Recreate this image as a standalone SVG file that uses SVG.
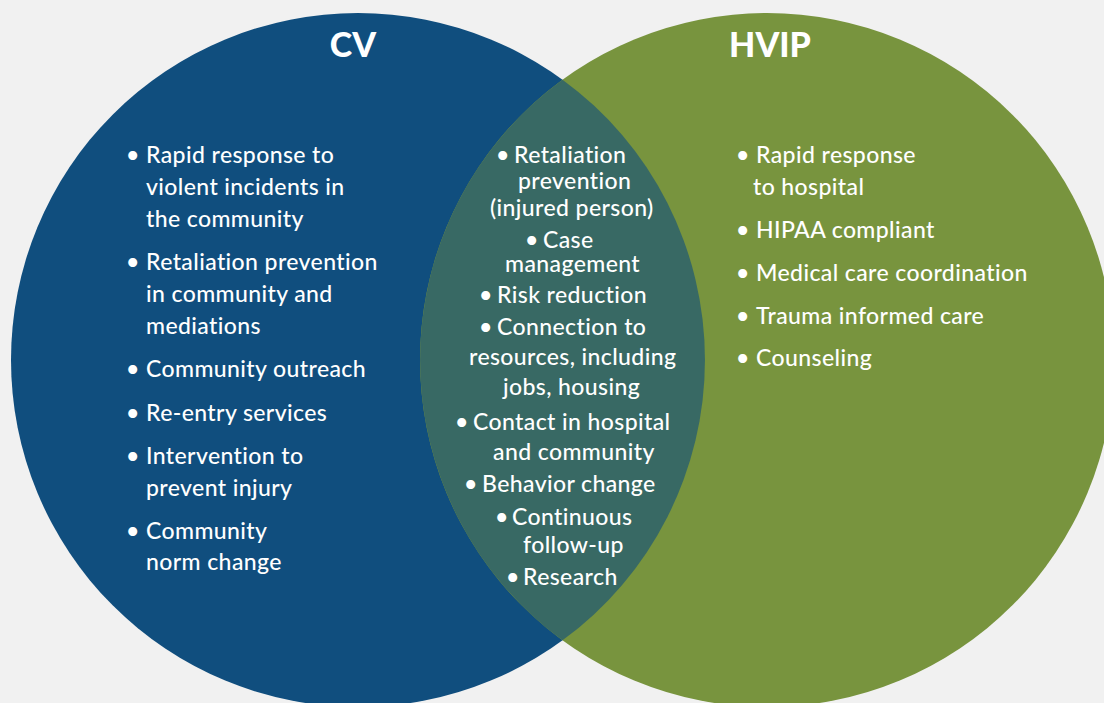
<svg xmlns="http://www.w3.org/2000/svg" width="1104" height="703" viewBox="0 0 1104 703">
<style>
.t{font-family:Lato,"Open Sans","Liberation Sans",sans-serif;font-size:23px;letter-spacing:0.4px;fill:#ffffff;font-weight:500}
.h{font-family:Lato,"Open Sans","Liberation Sans",sans-serif;font-size:34px;fill:#ffffff;font-weight:900;text-anchor:middle}
</style>
<rect width="1104" height="703" fill="#f1f1f1"/>
<g id="cv">
<circle cx="358" cy="360" r="347" fill="#104e7e"/>
</g>
<g id="hvip">
<circle cx="767" cy="360" r="347" fill="#78943e"/>
</g>
<g id="overlap">
<path d="M562.5 79.7 A347 347 0 0 1 562.5 640.3 A347 347 0 0 1 562.5 79.7 Z" fill="#386964"/>
</g>
<g id="cv-text">
<text class="h" x="353" y="57">CV</text>
<text class="t"><tspan x="126" y="163">•</tspan><tspan x="146" y="163">Rapid response to</tspan></text>
<text class="t" x="146" y="195">violent incidents in</text>
<text class="t" x="146" y="227">the community</text>
<text class="t"><tspan x="126" y="270">•</tspan><tspan x="146" y="270">Retaliation prevention</tspan></text>
<text class="t" x="146" y="302">in community and</text>
<text class="t" x="146" y="334">mediations</text>
<text class="t"><tspan x="126" y="377">•</tspan><tspan x="146" y="377">Community outreach</tspan></text>
<text class="t"><tspan x="126" y="421">•</tspan><tspan x="146" y="421">Re-entry services</tspan></text>
<text class="t"><tspan x="126" y="464">•</tspan><tspan x="146" y="464">Intervention to</tspan></text>
<text class="t" x="146" y="496">prevent injury</text>
<text class="t"><tspan x="126" y="539">•</tspan><tspan x="146" y="539">Community</tspan></text>
<text class="t" x="146" y="570">norm change</text>
</g>
<g id="overlap-text">
<text class="t"><tspan x="496" y="163">•</tspan><tspan x="514" y="163">Retaliation</tspan></text>
<text class="t" x="518" y="189">prevention</text>
<text class="t" x="490" y="216">(injured person)</text>
<text class="t"><tspan x="525" y="248">•</tspan><tspan x="543" y="248">Case</tspan></text>
<text class="t" x="505" y="272">management</text>
<text class="t"><tspan x="479" y="303">•</tspan><tspan x="497" y="303">Risk reduction</tspan></text>
<text class="t"><tspan x="479" y="335">•</tspan><tspan x="497" y="335">Connection to</tspan></text>
<text class="t" x="469" y="365">resources, including</text>
<text class="t" x="503" y="395">jobs, housing</text>
<text class="t"><tspan x="455" y="430">•</tspan><tspan x="473" y="430">Contact in hospital</tspan></text>
<text class="t" x="493" y="460">and community</text>
<text class="t"><tspan x="464" y="492">•</tspan><tspan x="482" y="492">Behavior change</tspan></text>
<text class="t"><tspan x="495" y="525">•</tspan><tspan x="512" y="525">Continuous</tspan></text>
<text class="t" x="523" y="553">follow-up</text>
<text class="t"><tspan x="506" y="585">•</tspan><tspan x="523" y="585">Research</tspan></text>
</g>
<g id="hvip-text">
<text class="h" x="770" y="57">HVIP</text>
<text class="t"><tspan x="736" y="163">•</tspan><tspan x="756" y="163">Rapid response</tspan></text>
<text class="t" x="753" y="195">to hospital</text>
<text class="t"><tspan x="736" y="238">•</tspan><tspan x="756" y="238">HIPAA compliant</tspan></text>
<text class="t"><tspan x="736" y="281">•</tspan><tspan x="756" y="281">Medical care coordination</tspan></text>
<text class="t"><tspan x="736" y="324">•</tspan><tspan x="756" y="324">Trauma informed care</tspan></text>
<text class="t"><tspan x="736" y="366">•</tspan><tspan x="756" y="366">Counseling</tspan></text>
</g>
</svg>
